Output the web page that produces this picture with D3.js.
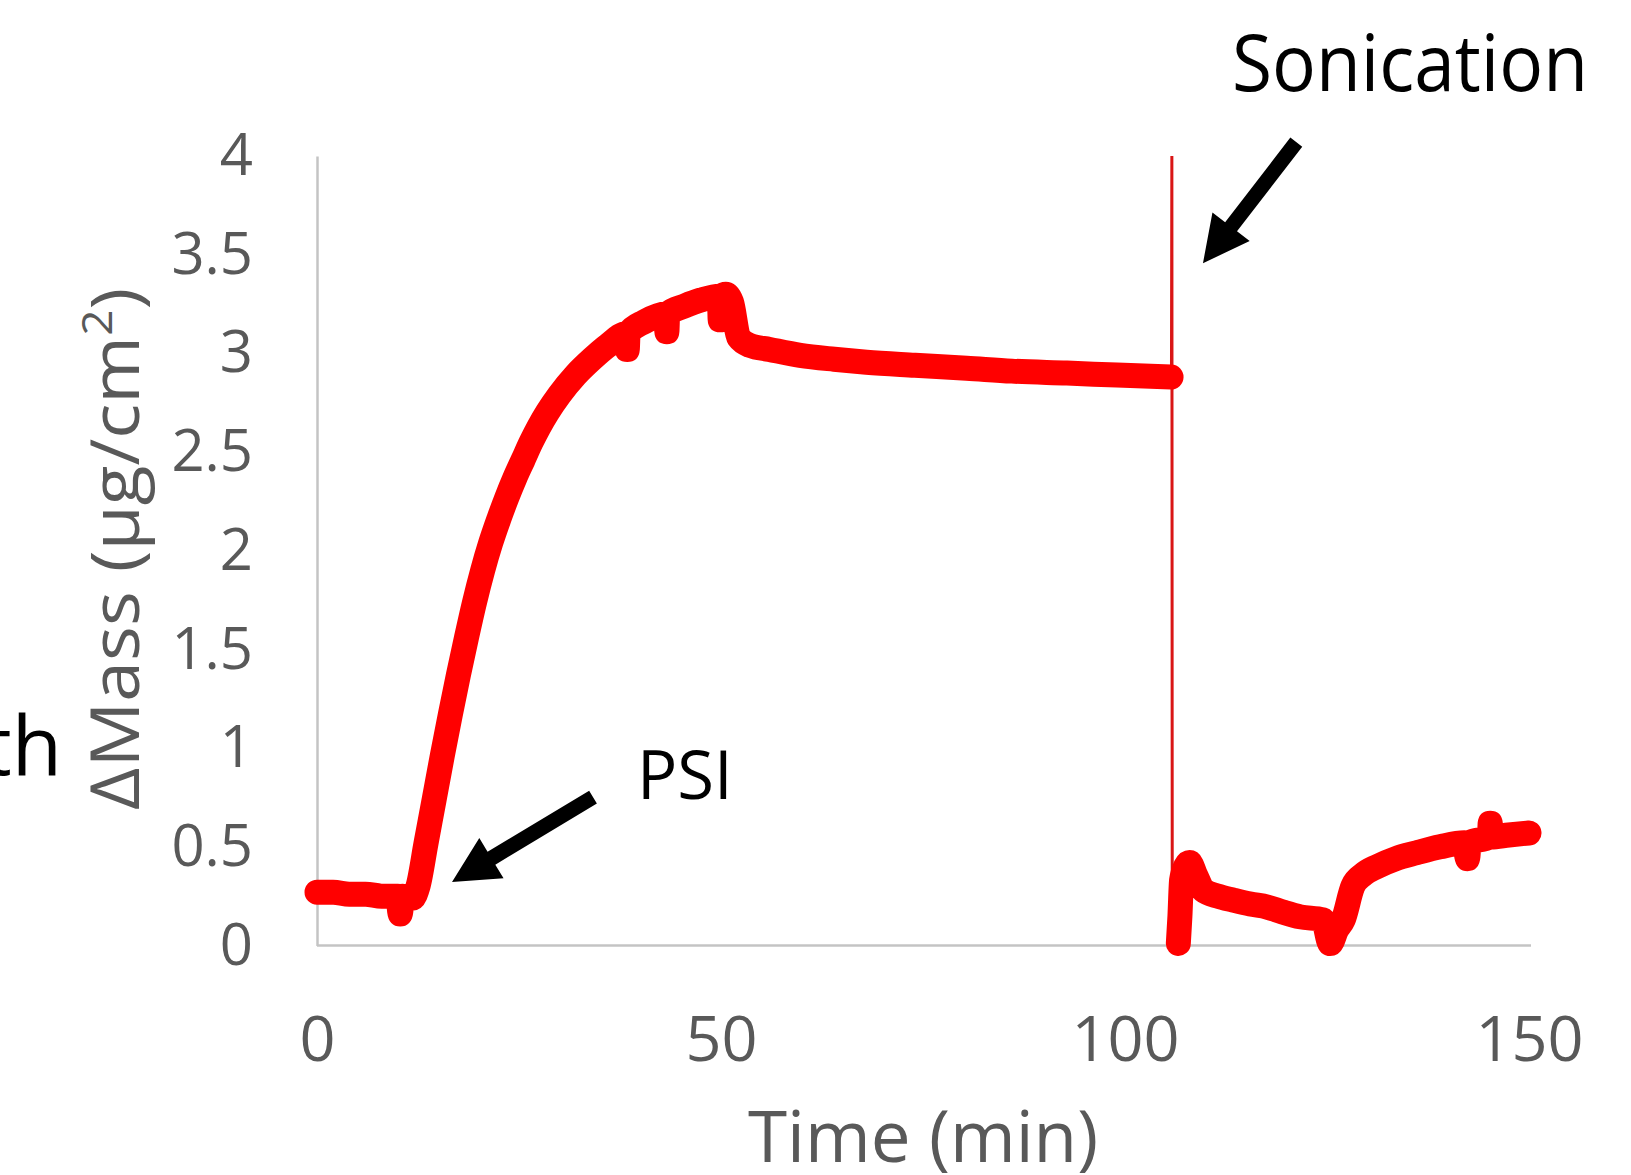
<!DOCTYPE html>
<html>
<head>
<meta charset="utf-8">
<script src="https://cdn.jsdelivr.net/npm/d3@7"></script>
<style>
  body { margin: 0; background: #fff; }
  text { font-family: "Open Sans", sans-serif; }
</style>
</head>
<body>
<script>
// mass trace before sonication (min, ug/cm2)
var timeA = [0, 2, 4, 6, 8, 10, 10.3, 10.6, 11.8, 12.5, 13.5, 14.5, 15.5, 16.5, 17.5, 18.5, 19.5, 20.5, 21.5, 22.5,
  23.5, 24.5, 25.5, 26.5, 27.5, 28.5, 30, 32, 34, 36, 38.3, 38.4, 38.5, 40.5, 43.2, 43.3, 43.4, 45.5, 47.5,
  49.8, 49.9, 50, 50.6, 51.3, 52.2, 53.6, 56, 59.8, 64, 68, 74, 80.4, 86, 92.8, 99, 105.7];
var massA = [0.27, 0.27, 0.26, 0.26, 0.25, 0.25, 0.16, 0.25, 0.24, 0.30, 0.52, 0.74, 0.96, 1.17, 1.37, 1.56, 1.74, 1.90, 2.04, 2.16,
  2.27, 2.37, 2.46, 2.55, 2.63, 2.70, 2.79, 2.89, 2.97, 3.04, 3.10, 3.02, 3.10, 3.16, 3.20, 3.11, 3.20, 3.24, 3.27,
  3.29, 3.17, 3.29, 3.30, 3.26, 3.08, 3.04, 3.02, 2.99, 2.97, 2.955, 2.94, 2.925, 2.91, 2.90, 2.89, 2.88];

// the sonication spike
var spikeTime = [105.75, 105.8, 105.85];
var spikeMass = [2.88, 4.0, 0.0];

// after sonication
var timeB = [106.6, 106.8, 107, 107.5, 108, 108.7, 109.7, 111.5, 113.4, 115.5, 117.6, 119.5, 121.7, 124.5, 125.4, 126.2,
  127, 128.2, 129.5, 131.2, 133.5, 136.1, 139, 142, 142.4, 142.6, 145.1, 145.2, 145.3, 147.5, 150];
var massB = [0.01, 0.15, 0.33, 0.40, 0.42, 0.36, 0.28, 0.25, 0.23, 0.21, 0.195, 0.17, 0.145, 0.13, 0.01, 0.08,
  0.13, 0.30, 0.36, 0.40, 0.44, 0.47, 0.50, 0.52, 0.44, 0.52, 0.55, 0.62, 0.55, 0.56, 0.57];

var xTicks = [0, 50, 100, 150];
var yTicks = [0, 0.5, 1, 1.5, 2, 2.5, 3, 3.5, 4];

var labels = ['Sonication', 'PSI'];
// arrows: [tailTime, tailMass, tipTime, tipMass]
var arrowSonication = [121.2, 4.07, 109.65, 3.457];
var arrowPSI = [34.16, 0.752, 16.71, 0.322];

var w = 1631,
    h = 1175;

var svg = d3.select('body')
  .append('svg')
  .attr('width', w)
  .attr('height', h);

var x = d3.scaleLinear().domain([0, 150]).range([317, 1529]);
var y = d3.scaleLinear().domain([0, 4]).range([945.5, 156]);

function zip(ts, ms) {
    return ts.map(function(t, i) { return [t, ms[i]]; });
}

// axes
var xAxis = d3.axisBottom(x)
  .tickValues(xTicks)
  .tickFormat(d3.format('d'))
  .tickSizeInner(0)
  .tickSizeOuter(0)
  .tickPadding(71);

var yAxis = d3.axisLeft(y)
  .tickValues(yTicks)
  .tickFormat(d3.format('~g'))
  .tickSizeInner(0)
  .tickSizeOuter(0)
  .tickPadding(64);

var gx = svg.append('g')
  .attr('transform', 'translate(0,' + y(0) + ')')
  .call(xAxis);
gx.select('.domain').attr('d', 'M' + x(0) + ',0H' + (x(150) + 2))
  .attr('stroke', '#c4c4c4').attr('stroke-width', 2.5);
gx.selectAll('text')
  .attr('fill', '#595959')
  .style('font-family', '"Open Sans", sans-serif')
  .style('font-size', '63px');

var gy = svg.append('g')
  .attr('transform', 'translate(' + x(0) + ',0)')
  .call(yAxis);
gy.select('.domain').attr('stroke', '#c4c4c4').attr('stroke-width', 2.5);
gy.selectAll('text')
  .attr('fill', '#595959')
  .style('font-family', '"Open Sans", sans-serif')
  .style('font-size', '58px');

// axis titles
svg.append('text')
  .attr('x', 923)
  .attr('y', 1162)
  .attr('text-anchor', 'middle')
  .attr('fill', '#595959')
  .style('font-size', '71px')
  .text('Time (min)');

var yt = svg.append('text')
  .attr('transform', 'translate(139,549) rotate(-90)')
  .attr('text-anchor', 'middle')
  .attr('fill', '#595959')
  .attr('textLength', 522)
  .attr('lengthAdjust', 'spacingAndGlyphs')
  .style('font-size', '67px');
yt.append('tspan').text('\u0394Mass (\u00b5g/cm');
yt.append('tspan').attr('font-size', '42px').attr('dy', -27).text('2');
yt.append('tspan').attr('dy', 27).text(')');

// data
var line = d3.line()
  .x(function(d) { return x(d[0]); })
  .y(function(d) { return y(d[1]); })
  .curve(d3.curveMonotoneX);

svg.append('path')
  .attr('d', d3.line().x(function(d) { return x(d[0]); }).y(function(d) { return y(d[1]); })(zip(spikeTime, spikeMass)))
  .attr('fill', 'none')
  .attr('stroke', '#d91515')
  .attr('stroke-width', 3);

[zip(timeA, massA), zip(timeB, massB)].forEach(function(seg) {
    svg.append('path')
      .attr('d', line(seg))
      .attr('fill', 'none')
      .attr('stroke', '#ff0000')
      .attr('stroke-width', 25)
      .attr('stroke-linejoin', 'round')
      .attr('stroke-linecap', 'round');
});

// annotation arrows
function arrowPath(a) {
    var x1 = x(a[0]), y1 = y(a[1]), x2 = x(a[2]), y2 = y(a[3]);
    var len = Math.hypot(x2 - x1, y2 - y1);
    var ux = (x2 - x1) / len, uy = (y2 - y1) / len;
    var px = -uy, py = ux;
    var sw = 7.5, hw = 23.5, hl = 46;
    var bx = x2 - ux * hl, by = y2 - uy * hl;
    var pts = [
        [x1 + px * sw, y1 + py * sw],
        [bx + px * sw, by + py * sw],
        [bx + px * hw, by + py * hw],
        [x2, y2],
        [bx - px * hw, by - py * hw],
        [bx - px * sw, by - py * sw],
        [x1 - px * sw, y1 - py * sw]
    ];
    return 'M' + pts.map(function(p) { return p[0] + ',' + p[1]; }).join('L') + 'Z';
}

svg.append('path').attr('d', arrowPath(arrowSonication)).attr('fill', '#000');
svg.append('path').attr('d', arrowPath(arrowPSI)).attr('fill', '#000');

svg.append('text')
  .attr('x', 1232)
  .attr('y', 91)
  .attr('fill', '#000')
  .attr('textLength', 356)
  .attr('lengthAdjust', 'spacingAndGlyphs')
  .style('font-size', '78px')
  .text(labels[0]);

svg.append('text')
  .attr('x', 637)
  .attr('y', 799)
  .attr('fill', '#000')
  .style('font-size', '67px')
  .text(labels[1]);

// leftover word cut off at the left edge
svg.append('text')
  .attr('x', 62)
  .attr('y', 775)
  .attr('text-anchor', 'end')
  .attr('fill', '#000')
  .style('font-size', '82px')
  .text('th');
</script>
</body>
</html>
